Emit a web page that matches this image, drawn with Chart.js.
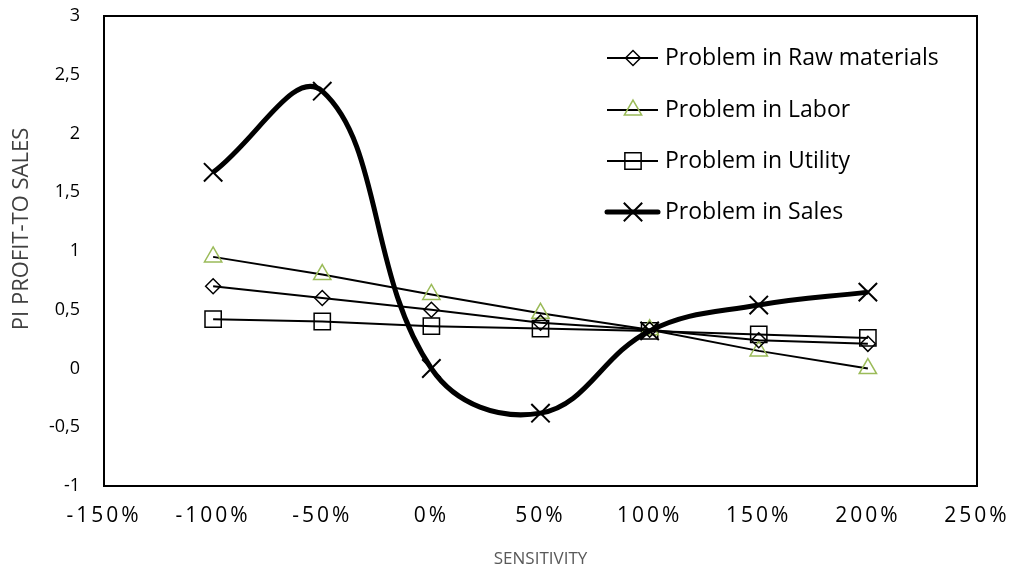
<!DOCTYPE html>
<html>
<head>
<meta charset="utf-8">
<script src="https://cdn.jsdelivr.net/npm/chart.js@4.4.1/dist/chart.umd.min.js"></script>
<style>
html,body{margin:0;padding:0;background:#fff;}
#wrap{width:1011px;height:569px;position:relative;}
</style>
</head>
<body>
<div id="wrap"><canvas id="c" width="1011" height="569"></canvas></div>
<script>
// ---- data ----
const sensitivity = [-100, -50, 0, 50, 100, 150, 200];
const rawMaterials = [0.70, 0.60, 0.50, 0.39, 0.33, 0.24, 0.21];
const labor = [0.95, 0.80, 0.63, 0.47, 0.33, 0.15, 0.00];
const utility = [0.42, 0.40, 0.36, 0.34, 0.32, 0.29, 0.26];
const sales = [1.67, 2.36, 0.00, -0.38, 0.32, 0.54, 0.65];
const seriesNames = ['Problem in Raw materials', 'Problem in Labor', 'Problem in Utility', 'Problem in Sales'];
const xTicks = [-150, -100, -50, 0, 50, 100, 150, 200, 250];
const yTicks = [-1, -0.5, 0, 0.5, 1, 1.5, 2, 2.5, 3];
const xTitle = 'SENSITIVITY';
const yTitle = 'PI PROFIT-TO SALES';

const FONT = "'Open Sans', 'Noto Sans', sans-serif";
const pts = arr => arr.map((v, i) => ({x: sensitivity[i], y: v}));

const datasets = [
  {label: seriesNames[0], data: pts(rawMaterials), borderColor:'#000', borderWidth:2,
   pointStyle:'rectRot', pointRadius:7.5, pointBorderColor:'#000', pointBackgroundColor:'rgba(0,0,0,0)', pointBorderWidth:1.5, tension:0, order:2},
  {label: seriesNames[1], data: pts(labor), borderColor:'#000', borderWidth:2,
   pointStyle:'triangle', pointRadius:10, pointBorderColor:'#9BBB59', pointBackgroundColor:'rgba(0,0,0,0)', pointBorderWidth:1.5, tension:0, order:3},
  {label: seriesNames[2], data: pts(utility), borderColor:'#000', borderWidth:2,
   pointStyle:'rect', pointRadius:11.5, pointBorderColor:'#000', pointBackgroundColor:'rgba(0,0,0,0)', pointBorderWidth:1.5, tension:0, order:4},
  {label: seriesNames[3], data: pts(sales), borderColor:'#000', borderWidth:5,
   pointStyle:'crossRot', pointRadius:13, pointBorderColor:'#000', pointBackgroundColor:'rgba(0,0,0,0)', pointBorderWidth:2, tension:0.4, cubicInterpolationMode:'default', order:1}
];

const frame = {
  id:'frame',
  afterDatasetsDraw(chart){
    const {ctx, chartArea:a} = chart;
    ctx.save();
    ctx.strokeStyle='#000'; ctx.lineWidth=2;
    ctx.strokeRect(a.left, a.top, a.right-a.left, a.bottom-a.top);
    ctx.restore();
  }
};

const yTitlePlugin = {
  id:'yTitle',
  afterDraw(chart){
    const ctx = chart.ctx;
    ctx.save();
    ctx.translate(22, 229);
    ctx.rotate(-Math.PI/2);
    ctx.fillStyle = '#404040';
    ctx.font = "22px " + FONT;
    ctx.textAlign = 'center';
    ctx.textBaseline = 'middle';
    ctx.fillText(yTitle, 0, 0);
    ctx.restore();
  }
};

const legendPlugin = {
  id:'customLegend',
  afterDraw(chart){
    const ctx = chart.ctx;
    const rows = [58, 110, 161, 212];
    ctx.save();
    chart.data.datasets.forEach((ds, i) => {
      const y = rows[i];
      ctx.strokeStyle = '#000';
      ctx.lineWidth = ds.borderWidth;
      ctx.lineCap = i === 3 ? 'round' : 'butt';
      ctx.beginPath(); ctx.moveTo(607, y); ctx.lineTo(658, y); ctx.stroke();
      ctx.lineCap = 'butt';
      ctx.strokeStyle = ds.pointBorderColor;
      ctx.fillStyle = 'rgba(0,0,0,0)';
      ctx.lineWidth = ds.pointBorderWidth;
      Chart.helpers.drawPoint(ctx, {pointStyle: ds.pointStyle, radius: ds.pointRadius, rotation: 0, borderWidth: ds.pointBorderWidth}, 633, y);
      ctx.fillStyle = '#000';
      ctx.font = "23px " + FONT;
      ctx.textBaseline = 'middle';
      ctx.textAlign = 'left';
      ctx.fillText(ds.label, 665, y);
    });
    ctx.restore();
  }
};

const spacedX = {
  id:'spacedX',
  afterUpdate(chart){
    const s = chart.scales.x;
    if (s._spaced) return;
    const orig = s.drawLabels.bind(s);
    s.drawLabels = function(area){
      const ctx = chart.ctx;
      ctx.save();
      ctx.letterSpacing = '3px';
      orig(area);
      ctx.restore();
    };
    s._spaced = true;
  }
};

new Chart(document.getElementById('c'), {
  type:'line',
  data:{datasets},
  plugins:[frame, legendPlugin, spacedX, yTitlePlugin],
  options:{
    responsive:false,
    animation:false,
    devicePixelRatio:1,
    layout:{padding:{top:16, right:34, left:0, bottom:0}},
    plugins:{legend:{display:false}, tooltip:{enabled:false}},
    scales:{
      x:{
        type:'linear', min:-150, max:250,
        afterBuildTicks(s){ s.ticks = xTicks.map(v => ({value:v})); },
        afterFit(s){ s.height = 83; s.paddingLeft = 0; s.paddingRight = 0; },
        grid:{display:false, drawTicks:false},
        border:{display:false},
        ticks:{color:'#000', font:{family:FONT, size:21}, padding:17, maxRotation:0, autoSkip:false,
               callback:v => v + '%'},
        title:{display:true, text:xTitle, color:'#595959', font:{family:FONT, size:17}, padding:{top:6, bottom:0}}
      },
      y:{
        type:'linear', min:-1, max:3,
        afterBuildTicks(s){ s.ticks = yTicks.map(v => ({value:v})); },
        afterFit(s){ s.width = 104; s.paddingTop = 0; s.paddingBottom = 0; },
        grid:{display:false, drawTicks:false},
        border:{display:false},
        ticks:{color:'#000', font:{family:FONT, size:18}, padding:24,
               callback:v => String(v).replace('.', ',')},
        title:{display:false}
      }
    }
  }
});
</script>
</body>
</html>
